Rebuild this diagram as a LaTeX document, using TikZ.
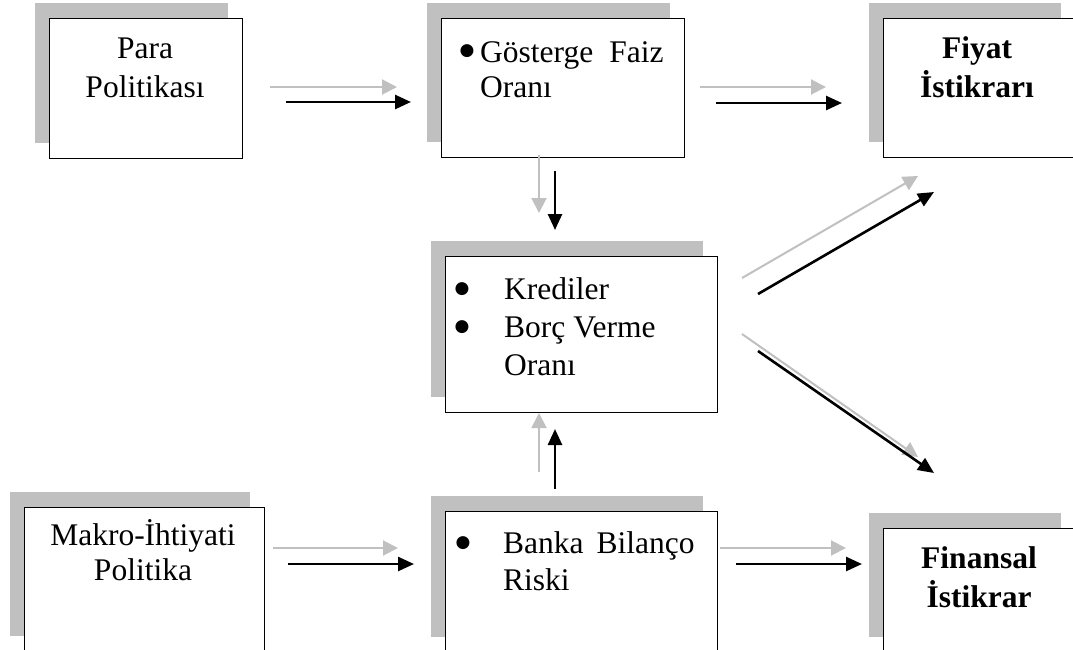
\documentclass[tikz,border=0pt]{standalone}
\usepackage{fontspec}
\setmainfont{Liberation Serif}
\newfontfamily\bulfont{DejaVu Sans}
\usetikzlibrary{arrows.meta,shadows}
\definecolor{sgray}{HTML}{C0C0C0}
\begin{document}
\begin{tikzpicture}[x=1pt,y=-1pt,
  box/.style={draw=black, line width=1.4pt, fill=white, anchor=north west, inner sep=0pt,
    general shadow={fill=sgray, shadow xshift=-15pt, shadow yshift=16pt}},
  txt/.style={font=\fontsize{31.5}{38}\selectfont, inner sep=0pt},
  btxt/.style={font=\fontsize{31.5}{38}\selectfont\bfseries, inner sep=0pt},
  bul/.style={font=\bulfont\fontsize{17}{17}\selectfont, inner sep=0pt, anchor=center},
  ga/.style={draw=sgray, line width=2pt, -{Triangle[length=15pt,width=15pt]}},
  ba/.style={draw=black, line width=2.6pt, -{Triangle[length=16pt,width=14pt]}}]
\useasboundingbox (0,0) rectangle (1073,649);
\clip (0,0) rectangle (1073,649);

% boxes
\node[box, minimum width=193pt, minimum height=140pt] (b1) at (49,18) {};
\node[box, minimum width=243pt, minimum height=139pt] (b2) at (441,18) {};
\node[box, minimum width=192pt, minimum height=139pt] (b3) at (883,18) {};
\node[box, minimum width=272pt, minimum height=156pt] (b4) at (445,256) {};
\node[box, minimum width=240pt, minimum height=144pt] (b5) at (24,507) {};
\node[box, minimum width=272pt, minimum height=141pt] (b6) at (445,511) {};
\node[box, minimum width=192pt, minimum height=124pt] (b7) at (883,528) {};

% texts
\node[txt, anchor=base] (t1a) at (145,58) {Para};
\node[txt, anchor=base] (t1b) at (145,97) {Politikası};

\node[bul] (p2) at (467,51) {●};
\node[txt, anchor=base west] (t2a) at (480,62) {Gösterge\hspace{16pt}Faiz};
\node[txt, anchor=base west] (t2b) at (480,97) {Oranı};

\node[btxt, anchor=base] (t3a) at (977,58) {Fiyat};
\node[btxt, anchor=base] (t3b) at (977,97) {İstikrarı};

\node[bul] (p4a) at (462,289) {●};
\node[bul] (p4b) at (462,327) {●};
\node[txt, anchor=base west] (t4a) at (504,299) {Krediler};
\node[txt, anchor=base west] (t4b) at (504,337) {Borç Verme};
\node[txt, anchor=base west] (t4c) at (504,375) {Oranı};

\node[txt, anchor=base] (t5a) at (143,545) {Makro-İhtiyati};
\node[txt, anchor=base] (t5b) at (143,580) {Politika};

\node[bul] (p6) at (463,543) {●};
\node[txt, anchor=base west] (t6a) at (503,553) {Banka\hspace{13pt}Bilanço};
\node[txt, anchor=base west] (t6b) at (503,590) {Riski};

\node[btxt, anchor=base] (t7a) at (979,568) {Finansal};
\node[btxt, anchor=base] (t7b) at (979,607) {İstikrar};

% arrow end points
\coordinate (g12s) at (270,87);  \coordinate (g12e) at (397,87);
\coordinate (k12s) at (286,102); \coordinate (k12e) at (411,102);
\coordinate (g23s) at (700,87);  \coordinate (g23e) at (826,87);
\coordinate (k23s) at (716,103); \coordinate (k23e) at (842,103);
\coordinate (g24s) at (539,155); \coordinate (g24e) at (539,213);
\coordinate (k24s) at (555,171); \coordinate (k24e) at (555,230);
\coordinate (g43s) at (742,278); \coordinate (g43e) at (918,176);
\coordinate (k43s) at (758,294); \coordinate (k43e) at (934,192);
\coordinate (g47s) at (742,334); \coordinate (g47e) at (918,457);
\coordinate (k47s) at (758,351); \coordinate (k47e) at (934,473);
\coordinate (g56s) at (273,548); \coordinate (g56e) at (398,548);
\coordinate (k56s) at (288,564); \coordinate (k56e) at (414,564);
\coordinate (g64s) at (539,472); \coordinate (g64e) at (539,413);
\coordinate (k64s) at (555,489); \coordinate (k64e) at (555,429);
\coordinate (g67s) at (720,548); \coordinate (g67e) at (846,548);
\coordinate (k67s) at (736,564); \coordinate (k67e) at (862,564);

% arrows
\draw[ga] (g12s) -- (g12e);  \draw[ba] (k12s) -- (k12e);
\draw[ga] (g23s) -- (g23e);  \draw[ba] (k23s) -- (k23e);
\draw[ga] (g24s) -- (g24e);  \draw[ba] (k24s) -- (k24e);
\draw[ga] (g43s) -- (g43e);  \draw[ba] (k43s) -- (k43e);
\draw[ga] (g47s) -- (g47e);  \draw[ba] (k47s) -- (k47e);
\draw[ga] (g56s) -- (g56e);  \draw[ba] (k56s) -- (k56e);
\draw[ga] (g64s) -- (g64e);  \draw[ba] (k64s) -- (k64e);
\draw[ga] (g67s) -- (g67e);  \draw[ba] (k67s) -- (k67e);
\end{tikzpicture}
\end{document}
